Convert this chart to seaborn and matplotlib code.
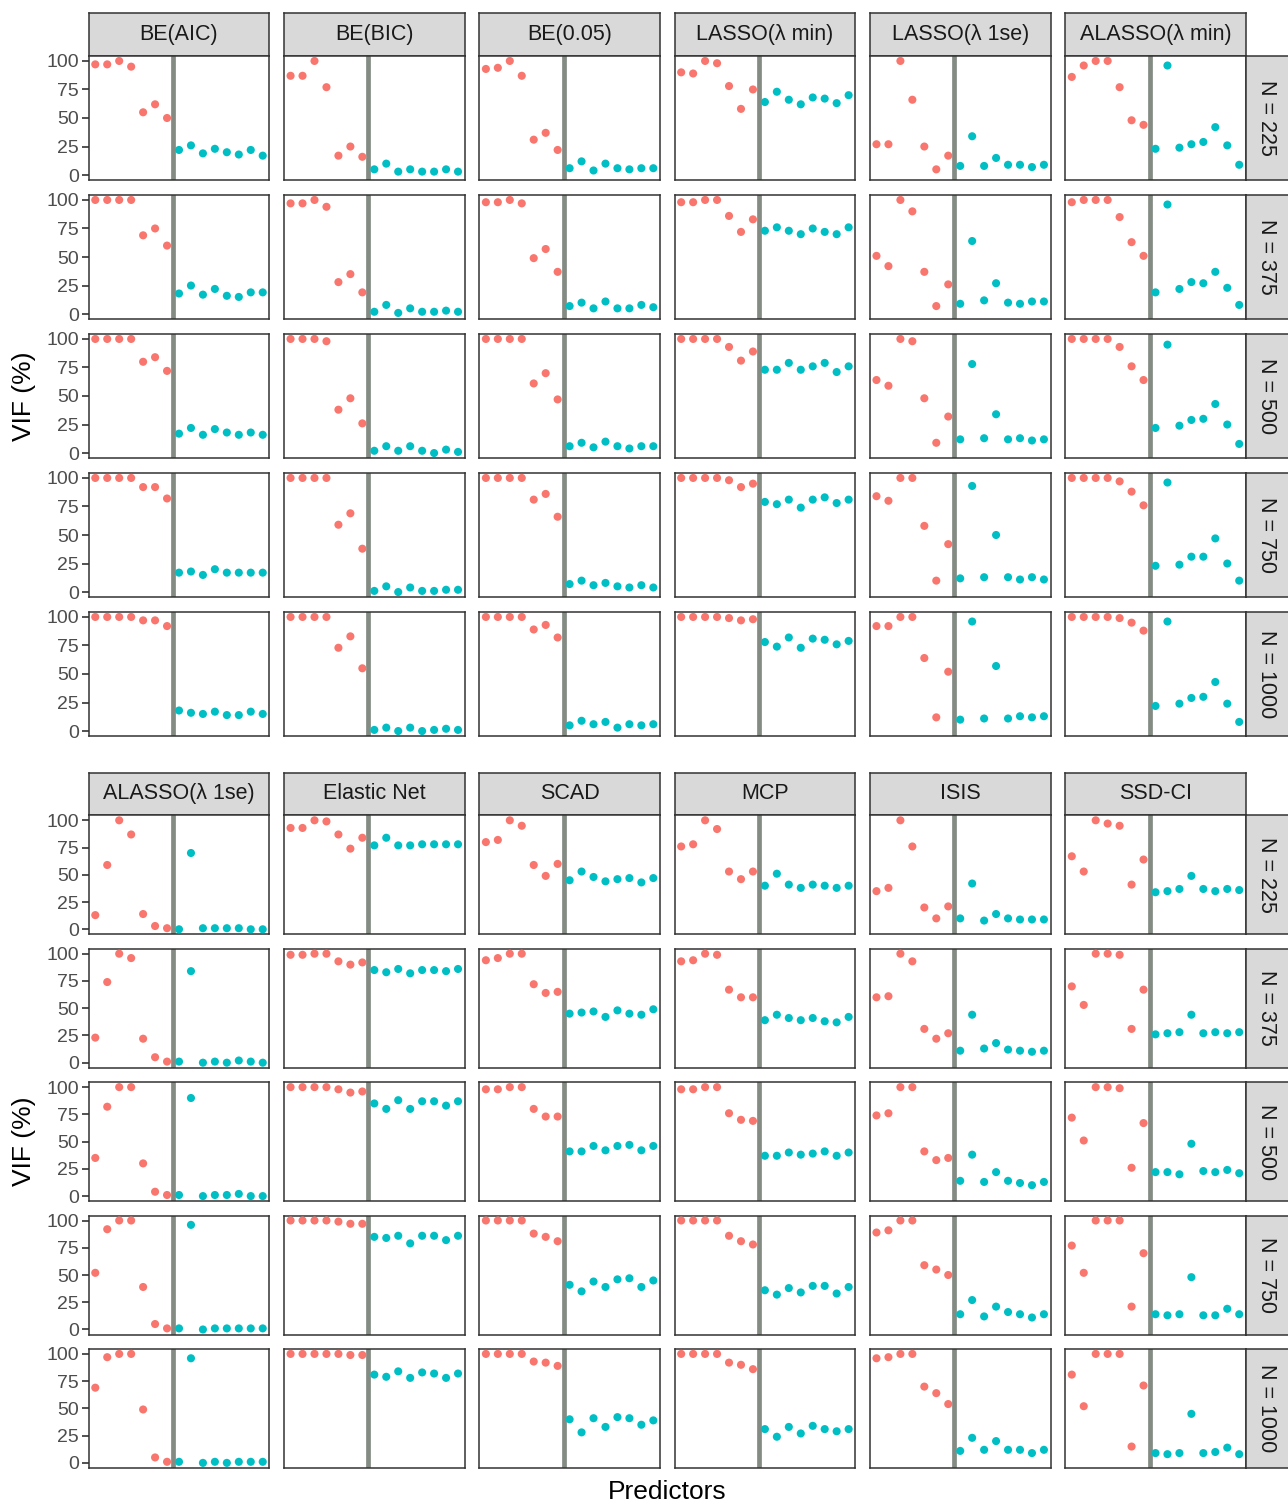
"""
Variable inclusion frequency by selection method and sample size
Two stacked blocks of facets, drawn panel by panel with seaborn
"""

import numpy as np
import pandas as pd
import matplotlib
matplotlib.use("Agg")
import matplotlib.pyplot as plt
import seaborn as sns

sample_sizes = [225, 375, 500, 750, 1000]
predictors = list(range(1, 16))
n_signal = 7  # predictors 1..7 are the true ones

methods_top = ["BE(AIC)", "BE(BIC)", "BE(0.05)", "LASSO(λ min)", "LASSO(λ 1se)", "ALASSO(λ min)"]
methods_bottom = ["ALASSO(λ 1se)", "Elastic Net", "SCAD", "MCP", "ISIS", "SSD-CI"]

# VIF (%) per method: one row per sample size, one value per predictor
be_aic = [
    [97, 97, 100, 95, 55, 62, 50, 22, 26, 19, 23, 20, 18, 22, 17],
    [100, 100, 100, 100, 69, 75, 60, 18, 25, 17, 22, 16, 15, 19, 19],
    [100, 100, 100, 100, 80, 84, 72, 17, 22, 16, 21, 18, 16, 18, 16],
    [100, 100, 100, 100, 92, 92, 82, 17, 18, 15, 20, 17, 17, 17, 17],
    [100, 100, 100, 100, 97, 97, 92, 18, 16, 15, 17, 14, 14, 17, 15],
]
be_bic = [
    [87, 87, 100, 77, 17, 25, 16, 5, 10, 3, 5, 3, 3, 5, 3],
    [97, 97, 100, 94, 28, 35, 19, 2, 8, 1, 5, 2, 2, 3, 2],
    [100, 100, 100, 98, 38, 48, 26, 2, 6, 2, 6, 2, 0, 3, 1],
    [100, 100, 100, 100, 59, 69, 38, 1, 5, 0, 4, 1, 1, 2, 2],
    [100, 100, 100, 100, 73, 83, 55, 1, 3, 0, 3, 0, 1, 2, 1],
]
be_005 = [
    [93, 94, 100, 87, 31, 37, 22, 6, 12, 4, 10, 6, 5, 6, 6],
    [98, 98, 100, 97, 49, 57, 37, 7, 10, 5, 11, 5, 5, 8, 6],
    [100, 100, 100, 100, 61, 70, 47, 6, 9, 5, 10, 6, 4, 6, 6],
    [100, 100, 100, 100, 81, 86, 66, 7, 10, 6, 8, 5, 4, 6, 4],
    [100, 100, 100, 100, 89, 93, 82, 5, 9, 6, 8, 3, 6, 5, 6],
]
lasso_min = [
    [90, 89, 100, 98, 78, 58, 75, 64, 73, 66, 62, 68, 67, 63, 70],
    [98, 98, 100, 100, 86, 72, 83, 73, 76, 73, 70, 75, 72, 70, 76],
    [100, 100, 100, 100, 93, 81, 89, 73, 73, 79, 73, 76, 79, 71, 76],
    [100, 100, 100, 100, 98, 92, 95, 79, 77, 81, 74, 81, 83, 78, 81],
    [100, 100, 100, 100, 99, 97, 98, 78, 74, 82, 73, 81, 80, 76, 79],
]
lasso_1se = [
    [27, 27, 100, 66, 25, 5, 17, 8, 34, 8, 15, 9, 9, 7, 9],
    [51, 42, 100, 90, 37, 7, 26, 9, 64, 12, 27, 10, 9, 11, 11],
    [64, 59, 100, 98, 48, 9, 32, 12, 78, 13, 34, 12, 13, 11, 12],
    [84, 80, 100, 100, 58, 10, 42, 12, 93, 13, 50, 13, 11, 13, 11],
    [92, 92, 100, 100, 64, 12, 52, 10, 96, 11, 57, 11, 13, 12, 13],
]
alasso_min = [
    [86, 96, 100, 100, 77, 48, 44, 23, 96, 24, 27, 29, 42, 26, 9],
    [98, 100, 100, 100, 85, 63, 51, 19, 96, 22, 28, 27, 37, 23, 8],
    [100, 100, 100, 100, 93, 76, 64, 22, 95, 24, 29, 30, 43, 25, 8],
    [100, 100, 100, 100, 97, 88, 76, 23, 96, 24, 31, 31, 47, 25, 10],
    [100, 100, 100, 100, 99, 95, 88, 22, 96, 24, 29, 30, 43, 24, 8],
]
alasso_1se = [
    [13, 59, 100, 87, 14, 3, 1, 0, 70, 1, 1, 1, 1, 0, 0],
    [23, 74, 100, 96, 22, 5, 1, 1, 84, 0, 1, 0, 2, 1, 0],
    [35, 82, 100, 100, 30, 4, 1, 1, 90, 0, 1, 1, 2, 0, 0],
    [52, 92, 100, 100, 39, 5, 1, 1, 96, 0, 1, 1, 1, 1, 1],
    [69, 97, 100, 100, 49, 5, 1, 1, 96, 0, 1, 0, 1, 1, 1],
]
elastic_net = [
    [93, 93, 100, 99, 87, 74, 84, 77, 84, 77, 77, 78, 78, 78, 78],
    [99, 99, 100, 100, 93, 90, 92, 85, 83, 86, 82, 85, 85, 84, 86],
    [100, 100, 100, 100, 98, 95, 96, 85, 80, 88, 80, 87, 87, 83, 87],
    [100, 100, 100, 100, 99, 97, 97, 85, 84, 86, 79, 86, 86, 82, 86],
    [100, 100, 100, 100, 100, 99, 99, 81, 79, 84, 78, 83, 82, 78, 82],
]
scad = [
    [80, 82, 100, 95, 59, 49, 60, 45, 53, 48, 44, 46, 47, 43, 47],
    [94, 96, 100, 100, 72, 64, 65, 45, 46, 47, 42, 48, 45, 44, 49],
    [98, 98, 100, 100, 80, 73, 73, 41, 41, 46, 42, 46, 47, 42, 46],
    [100, 100, 100, 100, 88, 85, 81, 41, 35, 44, 39, 46, 47, 39, 45],
    [100, 100, 100, 100, 93, 92, 89, 40, 28, 41, 33, 42, 41, 35, 39],
]
mcp = [
    [76, 78, 100, 92, 53, 46, 53, 40, 51, 41, 38, 41, 40, 38, 40],
    [93, 94, 100, 99, 67, 60, 60, 39, 44, 41, 39, 41, 38, 37, 42],
    [98, 98, 100, 100, 76, 70, 69, 37, 37, 40, 38, 39, 41, 37, 40],
    [100, 100, 100, 100, 86, 81, 78, 36, 32, 38, 34, 40, 40, 33, 39],
    [100, 100, 100, 100, 92, 90, 86, 31, 24, 33, 27, 34, 31, 29, 31],
]
isis = [
    [35, 38, 100, 76, 20, 10, 21, 10, 42, 8, 14, 10, 9, 9, 9],
    [60, 61, 100, 93, 31, 22, 27, 11, 44, 13, 18, 12, 11, 10, 11],
    [74, 76, 100, 100, 41, 33, 35, 14, 38, 13, 22, 14, 12, 10, 13],
    [89, 91, 100, 100, 59, 55, 50, 14, 27, 12, 21, 16, 14, 11, 14],
    [96, 97, 100, 100, 70, 64, 54, 11, 23, 12, 20, 12, 12, 9, 12],
]
ssd_ci = [
    [67, 53, 100, 97, 95, 41, 64, 34, 35, 37, 49, 37, 35, 37, 36],
    [70, 53, 100, 100, 99, 31, 67, 26, 27, 28, 44, 27, 28, 27, 28],
    [72, 51, 100, 100, 99, 26, 67, 22, 22, 20, 48, 23, 22, 24, 21],
    [77, 52, 100, 100, 100, 21, 70, 14, 13, 14, 48, 13, 13, 19, 14],
    [81, 52, 100, 100, 100, 15, 71, 9, 8, 9, 45, 9, 10, 14, 8],
]

vif_tables = {
    "BE(AIC)": be_aic, "BE(BIC)": be_bic, "BE(0.05)": be_005,
    "LASSO(λ min)": lasso_min, "LASSO(λ 1se)": lasso_1se, "ALASSO(λ min)": alasso_min,
    "ALASSO(λ 1se)": alasso_1se, "Elastic Net": elastic_net, "SCAD": scad,
    "MCP": mcp, "ISIS": isis, "SSD-CI": ssd_ci,
}

# long table
records = []
for method, table in vif_tables.items():
    for n, row in zip(sample_sizes, table):
        for p, v in zip(predictors, row):
            records.append({"method": method, "N": n, "predictor": p, "vif": v,
                            "group": "signal" if p <= n_signal else "noise"})
df = pd.DataFrame(records)

palette = {"signal": "#F8766D", "noise": "#00BFC4"}

sns.set_theme(style="white")
plt.rcParams['font.family'] = ['Liberation Sans', 'DejaVu Sans']

W_PX, H_PX = 1288, 1502
fig = plt.figure(figsize=(W_PX / 100, H_PX / 100), dpi=100)


def px_axes(x0, y0, w, h):
    return fig.add_axes([x0 / W_PX, 1 - (y0 + h) / H_PX, w / W_PX, h / H_PX])


def style_box(ax):
    for s in ax.spines.values():
        s.set_visible(True)
        s.set_color('#333333')
        s.set_linewidth(1.1)


col_left, col_w, col_pitch = 88.7, 180.6, 195.3
blocks = [
    {"methods": methods_top, "strip_top": 13.0, "row_top": 55.7, "row_h": 124.6, "row_pitch": 139.0},
    {"methods": methods_bottom, "strip_top": 772.7, "row_top": 815.3, "row_h": 119.0, "row_pitch": 133.4},
]

for block in blocks:
    strip_h = block["row_top"] - block["strip_top"]
    for j, method in enumerate(block["methods"]):
        x0 = col_left + j * col_pitch

        # top strip
        sax = px_axes(x0, block["strip_top"], col_w, strip_h)
        sax.set_facecolor('#D9D9D9')
        sax.set_xticks([])
        sax.set_yticks([])
        style_box(sax)
        sax.text(0.5, 0.5, method, ha='center', va='center', fontsize=15.5,
                 color='#1A1A1A', transform=sax.transAxes)

        for i, n in enumerate(sample_sizes):
            y0 = block["row_top"] + i * block["row_pitch"]
            ax = px_axes(x0, y0, col_w, block["row_h"])
            sub = df[(df["method"] == method) & (df["N"] == n)]
            ax.axvline(n_signal + 0.5, color='#838B83', linewidth=3.4, zorder=1)
            sns.scatterplot(data=sub, x="predictor", y="vif", hue="group", palette=palette,
                            s=34, linewidth=0, legend=False, ax=ax, zorder=3)
            ax.set_xlim(0.45, 15.55)
            ax.set_ylim(-4.6, 104.6)
            ax.set_xticks([])
            ax.set_xlabel('')
            ax.set_ylabel('')
            style_box(ax)
            if j == 0:
                ax.set_yticks([0, 25, 50, 75, 100])
                ax.tick_params(axis='y', left=True, length=5, width=1.2, color='#333333',
                               pad=2, labelsize=14, labelcolor='#4D4D4D')
            else:
                ax.set_yticks([])

            if j == len(block["methods"]) - 1:
                # row strip on the right, running past the figure edge
                rax = px_axes(x0 + col_w + 0.5, y0, 45, block["row_h"])
                rax.set_facecolor('#D9D9D9')
                rax.set_xticks([])
                rax.set_yticks([])
                style_box(rax)
                rax.text(20.5 / 45, 0.5, f"N = {n}", ha='center', va='center', rotation=-90,
                         fontsize=15.5, color='#1A1A1A', transform=rax.transAxes)

    mid = block["row_top"] + (4 * block["row_pitch"] + block["row_h"]) / 2
    fig.text(24 / W_PX, 1 - mid / H_PX, "VIF (%)", rotation=90, ha='center', va='center',
             fontsize=19, color='black')

fig.text((col_left + (5 * col_pitch + col_w) / 2) / W_PX, 1 - 1492 / H_PX, "Predictors",
         ha='center', va='center', fontsize=19, color='black')

fig.savefig("out.png", dpi=100)
plt.close(fig)
